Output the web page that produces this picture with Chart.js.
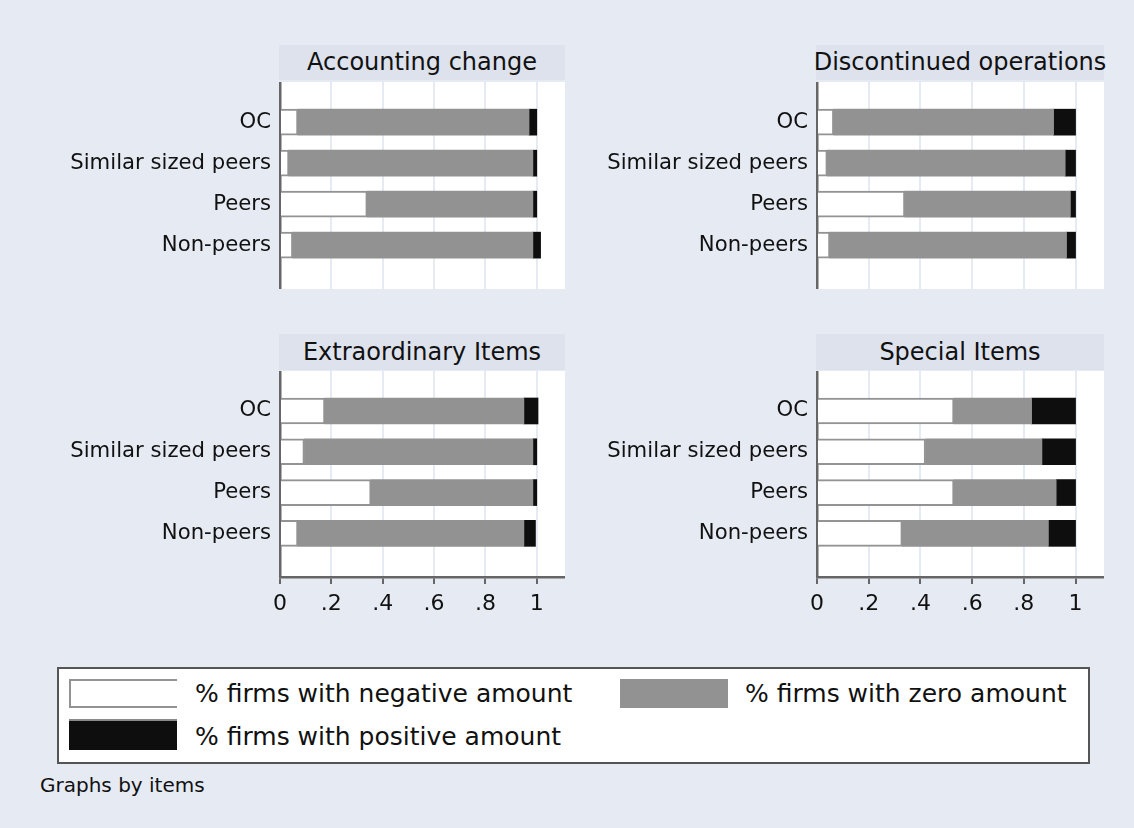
<!DOCTYPE html>
<html>
<head>
<meta charset="utf-8">
<script src="https://cdn.jsdelivr.net/npm/chart.js@4"></script>
<style>
  html, body { margin: 0; padding: 0; }
  body {
    width: 1134px; height: 828px; position: relative; overflow: hidden;
    background: #e6eaf3; font-family: "DejaVu Sans", sans-serif; color: #111;
  }
  canvas { position: absolute; }
  .strip {
    position: absolute; background: #dde2ec; text-align: center;
    font-size: 24px; white-space: nowrap; overflow: visible;
  }
  .strip span { display: inline-block; margin: 0 -20px; }
  #legend {
    position: absolute; left: 57px; top: 667px; width: 1029px; height: 93px;
    background: #fff; border: 2px solid #555;
  }
  .key { position: absolute; width: 108px; height: 29px; box-sizing: border-box; }
  .ltext { position: absolute; font-size: 25px; white-space: nowrap; line-height: 30px; }
  #note { position: absolute; left: 40px; top: 773px; font-size: 20px; white-space: nowrap; }
</style>
</head>
<body>
<script>
// Categories shown on every panel (top to bottom)
const categories = ['OC', 'Similar sized peers', 'Peers', 'Non-peers'];
const panelTitles = ['Accounting change', 'Discontinued operations', 'Extraordinary Items', 'Special Items'];
const seriesNames = ['% firms with negative amount', '% firms with zero amount', '% firms with positive amount'];

// Shares of firms per item: negative / zero / positive amount
const acctNeg  = [0.07, 0.035, 0.34, 0.05];
const acctZero = [0.90, 0.95, 0.645, 0.935];
const acctPos  = [0.03, 0.015, 0.015, 0.03];

const discNeg  = [0.065, 0.04, 0.34, 0.05];
const discZero = [0.85, 0.92, 0.64, 0.915];
const discPos  = [0.085, 0.04, 0.02, 0.035];

const extraNeg  = [0.175, 0.095, 0.355, 0.07];
const extraZero = [0.775, 0.89, 0.63, 0.88];
const extraPos  = [0.055, 0.015, 0.015, 0.045];

const specNeg  = [0.53, 0.42, 0.53, 0.33];
const specZero = [0.30, 0.45, 0.395, 0.565];
const specPos  = [0.17, 0.13, 0.075, 0.105];

// Horizontal axis ticks
const xTicks = [0, 0.2, 0.4, 0.6, 0.8, 1];
const xTickLabels = ['0', '.2', '.4', '.6', '.8', '1'];

Chart.defaults.font.family = '"DejaVu Sans", sans-serif';
Chart.defaults.color = '#111';

const plotBg = {
  id: 'plotBg',
  beforeDraw(chart) {
    const a = chart.chartArea, c = chart.ctx;
    c.save(); c.fillStyle = '#ffffff';
    c.fillRect(a.left, a.top, a.right - a.left, a.bottom - a.top);
    c.restore();
  }
};

// Panel layout: plot-area left/top, width, height, whether it carries the x axis
const panels = [
  { title: panelTitles[0], neg: acctNeg,  zero: acctZero,  pos: acctPos,  left: 280, top: 82,  w: 285, h: 207, axis: false, stripTop: 45,  stripH: 35 },
  { title: panelTitles[1], neg: discNeg,  zero: discZero,  pos: discPos,  left: 817, top: 82,  w: 287, h: 207, axis: false, stripTop: 45,  stripH: 35 },
  { title: panelTitles[2], neg: extraNeg, zero: extraZero, pos: extraPos, left: 280, top: 371, w: 285, h: 206, axis: true,  stripTop: 334, stripH: 36 },
  { title: panelTitles[3], neg: specNeg,  zero: specZero,  pos: specPos,  left: 817, top: 371, w: 287, h: 206, axis: true,  stripTop: 334, stripH: 36 }
];

const yAxisW = 250;
const xAxisH = 44;

panels.forEach((p, k) => {
  const strip = document.createElement('div');
  strip.className = 'strip';
  strip.style.left = (p.left - 1) + 'px';
  strip.style.top = p.stripTop + 'px';
  strip.style.width = (p.w + 1) + 'px';
  strip.style.height = p.stripH + 'px';
  strip.style.lineHeight = p.stripH + 'px';
  const span = document.createElement('span');
  span.textContent = p.title;
  strip.appendChild(span);
  document.body.appendChild(strip);

  const cv = document.createElement('canvas');
  const cw = yAxisW + p.w;
  const ch = p.h + (p.axis ? xAxisH : 0);
  cv.width = cw; cv.height = ch;
  cv.style.width = cw + 'px'; cv.style.height = ch + 'px';
  cv.style.left = (p.left - yAxisW) + 'px';
  cv.style.top = p.top + 'px';
  document.body.appendChild(cv);

  const pts = arr => arr.map((v, i) => ({ x: v, y: i }));

  new Chart(cv, {
    type: 'bar',
    data: {
      datasets: [
        { label: seriesNames[0], data: pts(p.neg),  backgroundColor: '#ffffff', borderColor: '#939393', borderWidth: 2 },
        { label: seriesNames[1], data: pts(p.zero), backgroundColor: '#929292', borderWidth: 0 },
        { label: seriesNames[2], data: pts(p.pos),  backgroundColor: '#0e0e0e', borderWidth: 0 }
      ]
    },
    options: {
      indexAxis: 'y',
      responsive: false,
      animation: false,
      layout: { padding: 0 },
      datasets: { bar: { barThickness: 26 } },
      plugins: { legend: { display: false }, tooltip: { enabled: false }, title: { display: false } },
      scales: {
        x: {
          type: 'linear', stacked: true, min: 0, max: 1.11, offset: false,
          afterBuildTicks: s => { s.ticks = xTicks.map(v => ({ value: v })); },
          afterFit: s => { s.height = p.axis ? xAxisH : 0; s.paddingLeft = 0; s.paddingRight = 0; },
          grid: {
            color: '#e6eaf3', lineWidth: 2, offset: false,
            drawTicks: p.axis, tickLength: 7, tickColor: '#666', tickWidth: 2
          },
          border: { display: p.axis, color: '#666', width: 2.5 },
          ticks: {
            display: p.axis, padding: 7, color: '#111',
            font: { size: 22 },
            callback: (v, i) => xTickLabels[i]
          }
        },
        y: {
          type: 'linear', stacked: true, reverse: true, min: -0.98, max: 4.07,
          offset: false, bounds: 'data',
          afterBuildTicks: s => { s.ticks = categories.map((_, i) => ({ value: i })); },
          afterFit: s => { s.width = yAxisW; s.paddingTop = 0; s.paddingBottom = 0; },
          grid: { display: false, drawTicks: false, offset: false },
          border: { display: true, color: '#666', width: 2.5 },
          ticks: {
            padding: 9, color: '#111', font: { size: 21.2 },
            callback: v => categories[v]
          }
        }
      }
    },
    plugins: [plotBg]
  });
});

// Legend panel
const legend = document.createElement('div');
legend.id = 'legend';
legend.innerHTML =
  '<div class="key" style="left:10px;top:10px;background:#fff;border-top:2px solid #939393;border-bottom:2px solid #939393;border-left:2px solid #939393;"></div>' +
  '<div class="ltext" style="left:136px;top:10px;">' + seriesNames[0] + '</div>' +
  '<div class="key" style="left:561px;top:10px;background:#929292;"></div>' +
  '<div class="ltext" style="left:686px;top:10px;">' + seriesNames[1] + '</div>' +
  '<div class="key" style="left:10px;top:50px;height:31px;background:#0e0e0e;border-top:2px solid #8a8a8a;"></div>' +
  '<div class="ltext" style="left:136px;top:53px;">' + seriesNames[2] + '</div>';
document.body.appendChild(legend);

const note = document.createElement('div');
note.id = 'note';
note.textContent = 'Graphs by items';
document.body.appendChild(note);
</script>
</body>
</html>
